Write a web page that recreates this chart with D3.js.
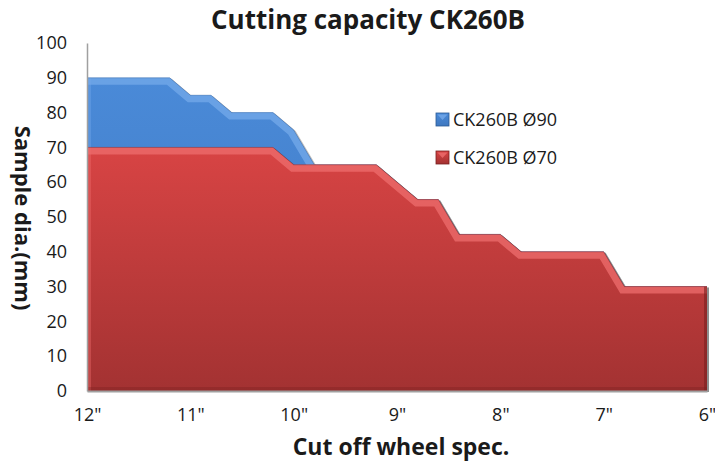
<!DOCTYPE html>
<html>
<head>
<meta charset="utf-8">
<script src="https://cdn.jsdelivr.net/npm/d3@7"></script>
<style>
  body { margin: 0; background: #fff; }
  text { font-family: "Open Sans", sans-serif; fill: #1a1a1a; }
</style>
</head>
<body>
<div id="chart"></div>
<script>
// wheel size (inch) of each sample point, 12" down to 6"
var wheelSize = [12.0, 11.8, 11.6, 11.4, 11.2, 11.0, 10.8, 10.6, 10.4, 10.2,
                 10.0, 9.8, 9.6, 9.4, 9.2, 9.0, 8.8, 8.6, 8.4, 8.2,
                 8.0, 7.8, 7.6, 7.4, 7.2, 7.0, 6.8, 6.6, 6.4, 6.2, 6.0];
var ck90 = [90, 90, 90, 90, 90, 85, 85, 80, 80, 80,
            75, 65, 65, 65, 65, 60, 55, 55, 45, 45,
            45, 40, 40, 40, 40, 40, 30, 30, 30, 30, 30];
var ck70 = [70, 70, 70, 70, 70, 70, 70, 70, 70, 70,
            65, 65, 65, 65, 65, 60, 55, 55, 45, 45,
            45, 40, 40, 40, 40, 40, 30, 30, 30, 30, 30];
var tickInch = [12, 11, 10, 9, 8, 7, 6];
var tickLabels = ['12"', '11"', '10"', '9"', '8"', '7"', '6"'];
var yTicks = [0, 10, 20, 30, 40, 50, 60, 70, 80, 90, 100];

(function () {
    var width = 715, height = 465;
    var plotLeft = 87, plotRight = 707, plotTop = 43, plotBottom = 391;

    var svg = d3.select("#chart").append("svg").attr("width", width).attr("height", height);
    var defs = svg.append("defs");

    var x = d3.scaleLinear().domain([12, 6]).range([plotLeft, plotRight]);
    var y = d3.scaleLinear().domain([0, 100]).range([plotBottom, plotTop]);

    var series = [
        {name: "CK260B Ø90", values: ck90, id: "blue", top: "#4a8ad8", bot: "#3f78c0", hi: "#74a9ea", dark: "#2c5a94"},
        {name: "CK260B Ø70", values: ck70, id: "red", top: "#d84444", bot: "#a33232", hi: "#ee6d6d", dark: "#7a2020"}
    ];

    series.forEach(function (s) {
        var g = defs.append("linearGradient").attr("id", "grad-" + s.id)
            .attr("x1", 0).attr("y1", 0).attr("x2", 0).attr("y2", 1);
        g.append("stop").attr("offset", "0%").attr("stop-color", s.top);
        g.append("stop").attr("offset", "100%").attr("stop-color", s.bot);
    });

    var area = d3.area()
        .x(function (d, i) { return x(wheelSize[i]); })
        .y0(y(0))
        .y1(function (d) { return y(d); });
    var line = d3.line()
        .x(function (d, i) { return x(wheelSize[i]); })
        .y(function (d) { return y(d); });

    series.forEach(function (s) {
        defs.append("clipPath").attr("id", "clip-" + s.id)
            .append("path").attr("d", area(s.values));

        var grp = svg.append("g");
        // soft shadow on the right
        grp.append("path").attr("d", area(s.values))
            .attr("transform", "translate(2,1)")
            .attr("fill", "#000").attr("opacity", 0.25);
        grp.append("path").attr("d", area(s.values))
            .attr("fill", "url(#grad-" + s.id + ")");

        var inner = grp.append("g").attr("clip-path", "url(#clip-" + s.id + ")");
        // bevel highlight along top edge
        inner.append("path").attr("d", line(s.values))
            .attr("fill", "none").attr("stroke", s.hi).attr("stroke-width", 14)
            .attr("stroke-linejoin", "miter").attr("opacity", 0.75);
        // left bevel
        inner.append("line")
            .attr("x1", plotLeft).attr("x2", plotLeft)
            .attr("y1", y(s.values[0])).attr("y2", plotBottom)
            .attr("stroke", s.hi).attr("stroke-width", 8).attr("opacity", 0.4);
        // right / bottom darker bevel
        inner.append("line")
            .attr("x1", plotRight).attr("x2", plotRight)
            .attr("y1", y(s.values[s.values.length - 1])).attr("y2", plotBottom)
            .attr("stroke", s.dark).attr("stroke-width", 6).attr("opacity", 0.6);
        inner.append("line")
            .attr("x1", plotLeft).attr("x2", plotRight)
            .attr("y1", plotBottom).attr("y2", plotBottom)
            .attr("stroke", s.dark).attr("stroke-width", 8).attr("opacity", 0.35);
        // thin edge line
        grp.append("path").attr("d", line(s.values))
            .attr("fill", "none").attr("stroke", s.dark).attr("stroke-width", 0.6).attr("opacity", 0.6);
    });

    // axes
    var yAxis = svg.append("g").attr("transform", "translate(" + plotLeft + ",0)")
        .call(d3.axisLeft(y).tickValues(yTicks).tickSize(0).tickPadding(20));
    yAxis.select(".domain").attr("stroke", "#a0a0a0").attr("stroke-width", 1.5);
    yAxis.selectAll("text").style("font-size", "18px").style("font-family", "'Open Sans', sans-serif").attr("fill", "#1a1a1a");

    var xAxis = svg.append("g").attr("transform", "translate(0," + plotBottom + ")")
        .call(d3.axisBottom(x).tickValues(tickInch).tickSize(0).tickPadding(17)
            .tickFormat(function (d, i) { return tickLabels[i]; }));
    xAxis.select(".domain").attr("stroke", "#a0a0a0").attr("stroke-width", 2);
    xAxis.selectAll("text").style("font-size", "18px").style("font-family", "'Open Sans', sans-serif").attr("fill", "#1a1a1a");

    // titles
    svg.append("text").attr("x", 368).attr("y", 29).attr("text-anchor", "middle")
        .style("font-size", "26px").style("font-weight", "bold").text("Cutting capacity CK260B");
    svg.append("text").attr("x", 401).attr("y", 455).attr("text-anchor", "middle")
        .style("font-size", "23px").style("font-weight", "bold").text("Cut off wheel spec.");
    svg.append("text").attr("transform", "translate(15,218) rotate(90)").attr("text-anchor", "middle")
        .style("font-size", "22px").style("font-weight", "bold").text("Sample dia.(mm)");

    // legend
    var legend = svg.append("g").attr("transform", "translate(436,113)");
    series.forEach(function (s, i) {
        var row = legend.append("g").attr("transform", "translate(0," + (i * 38) + ")");
        row.append("rect").attr("width", 13).attr("height", 13)
            .attr("fill", "url(#grad-" + s.id + ")").attr("stroke", s.dark).attr("stroke-width", 0.8);
        row.append("path").attr("d", "M1.5,1.5 L11.5,1.5 L6.5,7 Z").attr("fill", s.hi).attr("opacity", 0.8);
        row.append("text").attr("x", 17).attr("y", 13).style("font-size", "18px").text(s.name);
    });
})();
</script>
</body>
</html>
